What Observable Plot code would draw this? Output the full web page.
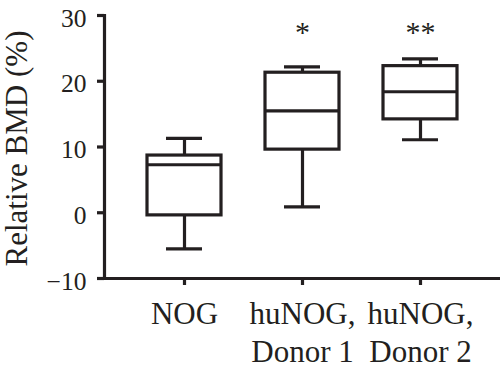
<!DOCTYPE html>
<html>
<head>
<meta charset="utf-8">
<script src="https://cdn.jsdelivr.net/npm/d3@7"></script>
<script src="https://cdn.jsdelivr.net/npm/@observablehq/plot@0.6"></script>
<style>
  html, body { margin: 0; padding: 0; background: #fff; }
  svg text { font-family: "Liberation Serif", serif; }
</style>
</head>
<body>
<div id="chart"></div>
<script>
const groups = ["NOG", "huNOG,\nDonor 1", "huNOG,\nDonor 2"];
const mins = [-5.5, 0.9, 11.1];
const q1s = [-0.4, 9.6, 14.2];
const medians = [7.3, 15.5, 18.4];
const q3s = [8.7, 21.3, 22.3];
const maxs = [11.3, 22.2, 23.4];
const stars = ["", "*", "**"];
const yTicks = [-10, 0, 10, 20, 30];

const data = groups.map((g, i) => ({
  group: g, min: mins[i], q1: q1s[i], median: medians[i], q3: q3s[i], max: maxs[i], star: stars[i]
}));

const ink = "#231f20";
const sw = 3.2;
const serif = "Liberation Serif";

const chart = Plot.plot({
  width: 500,
  height: 368,
  marginLeft: 104,
  marginRight: 0,
  marginTop: 15,
  marginBottom: 90,
  style: { fontFamily: serif, color: ink, background: "#fff", overflow: "visible" },
  x: { domain: groups, range: [125, 479], padding: 0 },
  y: { domain: [-10, 30] },
  marks: [
    Plot.frame({ anchor: "left", stroke: ink, strokeWidth: sw }),
    Plot.frame({ anchor: "bottom", stroke: ink, strokeWidth: sw }),
    Plot.axisY({
      ticks: yTicks, tickSize: 7, strokeWidth: sw, stroke: ink, text: null, label: null
    }),
    Plot.axisY({
      ticks: yTicks, tickSize: 0, tickPadding: 18, fontSize: 25.5, fontFamily: serif,
      fontVariant: "normal", fill: ink, label: null, dy: 3,
      tickFormat: d => d < 0 ? "\u2212" + Math.abs(d) : String(d)
    }),
    Plot.axisX({
      tickSize: 7, tickPadding: 12, fontSize: 31, fontFamily: serif, strokeWidth: sw, lineHeight: 1.22,
      stroke: ink, fill: ink, label: null
    }),
    Plot.text(["Relative BMD (%)"], {
      frameAnchor: "left", textAnchor: "middle", rotate: -90, dx: -87, dy: 1.5, fontSize: 31,
      fontFamily: serif, fill: ink
    }),
    Plot.ruleX(data, { x: "group", y1: "q3", y2: "max", stroke: ink, strokeWidth: sw }),
    Plot.ruleX(data, { x: "group", y1: "min", y2: "q1", stroke: ink, strokeWidth: sw }),
    Plot.tickY(data, { x: "group", y: "max", stroke: ink, strokeWidth: sw, insetLeft: 41, insetRight: 41 }),
    Plot.tickY(data, { x: "group", y: "min", stroke: ink, strokeWidth: sw, insetLeft: 41, insetRight: 41 }),
    Plot.barY(data, { x: "group", y1: "q1", y2: "q3", fill: "#fff", stroke: ink, strokeWidth: sw, insetLeft: 22, insetRight: 22 }),
    Plot.tickY(data, { x: "group", y: "median", stroke: ink, strokeWidth: sw, insetLeft: 22, insetRight: 22 }),
    Plot.text(data, { x: "group", y: 27, text: "star", fontSize: 30, fontFamily: serif, fill: ink, lineAnchor: "middle", dy: -2.5 })
  ]
});

document.getElementById("chart").appendChild(chart);
</script>
</body>
</html>
